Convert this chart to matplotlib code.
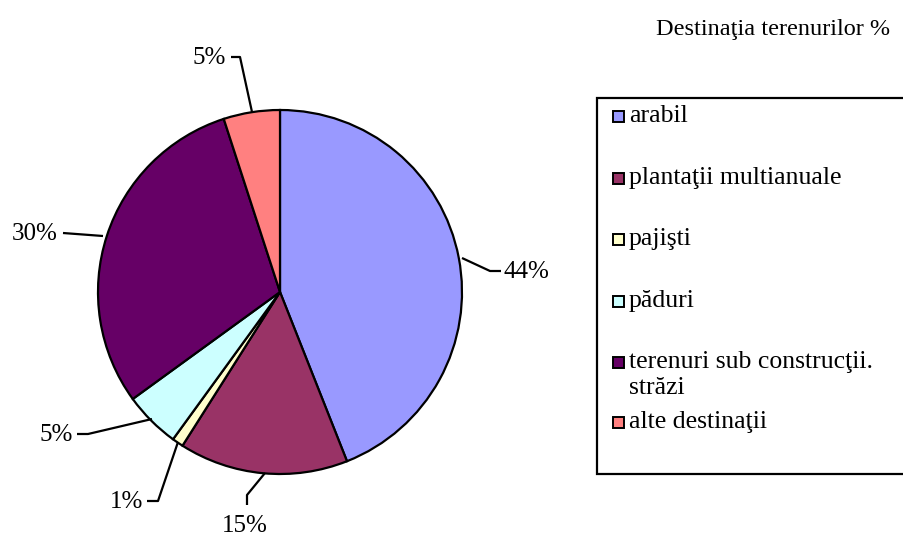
import matplotlib.pyplot as plt
from matplotlib.patches import Rectangle

plt.rcParams.update({
    'font.family': ['Liberation Serif', 'DejaVu Serif'],
    'font.size': 18,
})

# Data
categories = ['arabil', 'plantaţii multianuale', 'pajişti', 'păduri',
              'terenuri sub construcţii.\nstrăzi', 'alte destinaţii']
values = [44, 15, 1, 5, 30, 5]
colors = ['#9999FF', '#993366', '#FFFFCC', '#CCFFFF', '#660066', '#FF8080']
title = 'Destinaţia terenurilor %'

W, H = 904, 538
fig = plt.figure(figsize=(W / 100, H / 100), dpi=100)
ax = fig.add_axes([0, 0, 1, 1])

# pie in pixel-like coordinates (y measured from bottom)
cx, cy, r = 280, H - 292, 182
ax.pie(values, colors=colors, startangle=90, counterclock=False,
       center=(cx, cy), radius=r,
       wedgeprops={'edgecolor': 'black', 'linewidth': 1.6})
ax.set_xlim(0, W)
ax.set_ylim(0, H)
ax.set_aspect('equal')
ax.axis('off')

def flip(pts):
    return [p[0] for p in pts], [H - p[1] for p in pts]

# leader lines (label text, text pos, alignment, polyline from text to pie)
labels = [
    ('44%', (504, 272), 'left', [(501, 271), (490, 271), (462, 258)]),
    ('15%', (245, 526), 'center', [(247, 505), (247, 495), (265, 473)]),
    ('1%', (143, 502), 'right', [(147, 501), (158, 501), (178, 442)]),
    ('5%', (73, 435), 'right', [(77, 434), (88, 434), (152, 419)]),
    ('30%', (58, 234), 'right', [(63, 233), (103, 236)]),
    ('5%', (226, 58), 'right', [(231, 57), (240, 57), (252, 112)]),
]
for txt, (tx, ty), ha, line in labels:
    xs, ys = flip(line)
    ax.plot(xs, ys, color='black', linewidth=1.6, solid_capstyle='butt')
    ax.text(tx, H - ty, txt, ha=ha, va='center')

# title
ax.text(773, H - 29, title, ha='center', va='center', fontsize=17.5)

# legend box drawn by hand to match the spacing
ax.add_patch(Rectangle((597, H - 474), 320, 376, facecolor='white',
                       edgecolor='black', linewidth=1.6, clip_on=False))
leg_y = [116, 178, 239, 301, 362, 422]
for name, col, ly in zip(categories, colors, leg_y):
    ax.add_patch(Rectangle((613, H - ly - 5.5), 11, 11, facecolor=col,
                           edgecolor='black', linewidth=1.4))
    lines = name.split('\n')
    for k, part in enumerate(lines):
        ax.text(629, H - ly - 26 * k, part, ha='left', va='center',
                fontsize=18.5)

fig.savefig('out.png', dpi=100)
